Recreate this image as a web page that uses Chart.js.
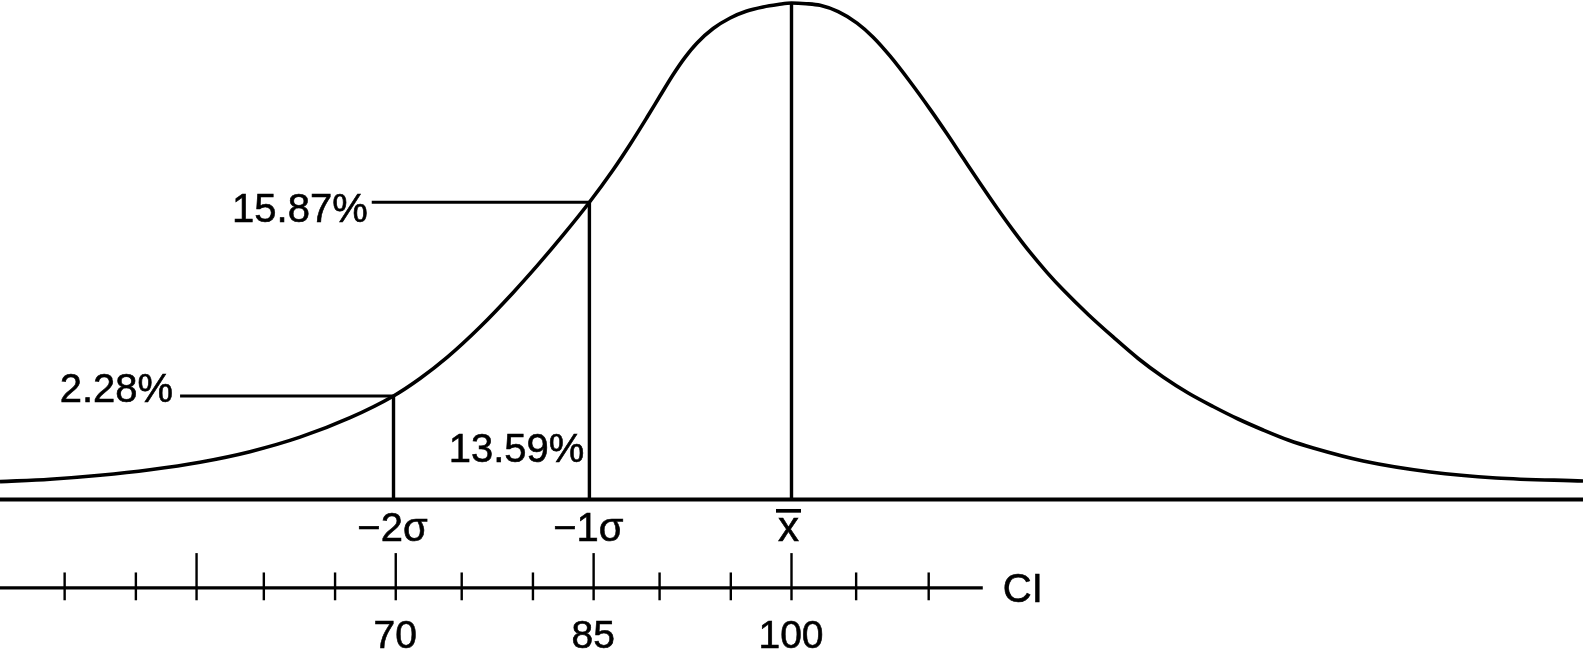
<!DOCTYPE html>
<html>
<head>
<meta charset="utf-8">
<title>CI normal curve</title>
<script src="https://cdn.jsdelivr.net/npm/chart.js@4.4.0/dist/chart.umd.min.js"></script>
<style>
  html, body { margin: 0; padding: 0; background: #fff; }
  #wrap { position: relative; width: 1583px; height: 660px; }
</style>
</head>
<body>
<div id="wrap"><canvas id="myChart"></canvas></div>
<script>
// curve (x in CI units, y in % of peak height)
var curveX = [40.00, 43.79, 47.58, 51.37, 55.16, 58.95, 62.74, 66.54, 69.83, 71.84, 73.89, 76.39, 78.89, 80.79,
              82.68, 84.68, 86.47, 87.76, 89.05, 90.04, 91.02, 91.93, 92.84, 94.06, 95.35, 96.56, 97.85, 98.98, 100.00,
              101.11, 102.17, 103.54, 104.97, 106.19, 107.48, 108.99, 110.51, 111.80, 113.01, 114.30, 115.59, 116.80,
              118.09, 119.38, 120.59, 122.49, 124.38, 126.28, 128.17, 130.07, 131.96, 133.86, 135.75, 137.65, 139.55,
              143.34, 148.42, 153.42, 160.00];
var curveY = [3.59, 4.09, 4.89, 6.00, 7.51, 9.63, 12.55, 16.48, 20.85, 24.37, 28.62, 34.74, 41.65, 47.29,
              53.23, 59.86, 66.36, 71.50, 76.98, 81.31, 85.56, 89.06, 91.96, 94.86, 96.98, 98.33, 99.19, 99.68, 100.00,
              99.86, 99.52, 98.25, 95.95, 93.11, 89.28, 84.13, 78.57, 73.60, 68.76, 63.63, 58.65, 54.20,
              49.75, 45.70, 42.22, 37.26, 32.73, 28.40, 24.67, 21.45, 18.73, 16.21, 14.00, 11.98, 10.37,
              7.75, 5.54, 4.33, 3.73];

// sigma markers
var sigmaLabels = ["\u22122\u03c3", "\u22121\u03c3", "x"];
var sigmaX = [69.83, 84.68, 100];
var sigmaTop = [20.85, 59.86, 100];

// cumulative percentages with leader lines, and the band between -2σ and -1σ
var tailLabels = ["2.28%", "15.87%"];
var leaderFromX = [53.65, 68.18];
var bandLabel = "13.59%";

// CI scale under the curve
var ciTicks = [44.9, 50.3, 54.9, 60.0, 65.4, 70.0, 75.0, 80.4, 85.0, 90.0, 95.4, 100.0, 104.9, 110.4];
var ciMajor = [54.9, 70.0, 85.0, 100.0];
var ciTickLabels = ["", "70", "85", "100"];
var ciEnd = 114.5;
var ciName = "CI";

var ciLevel = -17.8;   // where the CI axis sits (y units)
var FONT = '"Liberation Sans", Arial, Helvetica, sans-serif';

function seg(x1, y1, x2, y2, w) {
	return {
		data: [{x: x1, y: y1}, {x: x2, y: y2}],
		showLine: true, borderColor: "#000", borderWidth: w,
		pointRadius: 0, clip: false
	};
}

var datasets = [];
datasets.push({
	data: curveX.map(function(v, i) { return {x: v, y: curveY[i]}; }),
	showLine: true, borderColor: "#000", borderWidth: 3.6,
	pointRadius: 0, cubicInterpolationMode: "monotone", clip: false
});
datasets.push(seg(40, 0, 160, 0, 4));
sigmaX.forEach(function(v, i) { datasets.push(seg(v, 0, v, sigmaTop[i], 3.4)); });
leaderFromX.forEach(function(v, i) { datasets.push(seg(v, sigmaTop[i], sigmaX[i], sigmaTop[i], 3)); });
datasets.push(seg(40, ciLevel, ciEnd, ciLevel, 3.4));
ciTicks.forEach(function(v) {
	var top = ciMajor.indexOf(v) >= 0 ? -10.8 : -14.7;
	datasets.push(seg(v, -20.3, v, top, 2.4));
});

// text drawn a touch heavier, like the printed original
function put(ctx, t, x, y) {
	ctx.fillText(t, x, y);
	ctx.strokeText(t, x, y);
}

var textPlugin = {
	id: "texts",
	afterDatasetsDraw: function(chart) {
		var ctx = chart.ctx, xs = chart.scales.x, ys = chart.scales.y;
		var y0 = ys.getPixelForValue(0), yc = ys.getPixelForValue(ciLevel);
		ctx.save();
		ctx.fillStyle = "#000";
		ctx.strokeStyle = "#000";
		ctx.lineWidth = 0.6;
		ctx.textBaseline = "alphabetic";

		// tail percentages at the leader lines
		ctx.font = "40px " + FONT;
		ctx.textAlign = "right";
		var dx = [-7, -4], dy = [6, 19.5];
		tailLabels.forEach(function(t, i) {
			put(ctx, t, xs.getPixelForValue(leaderFromX[i]) + dx[i], ys.getPixelForValue(sigmaTop[i]) + dy[i]);
		});
		put(ctx, bandLabel, xs.getPixelForValue(sigmaX[1]) - 5, y0 - 37);

		// sigma labels under the baseline
		ctx.textAlign = "center";
		sigmaLabels.forEach(function(t, i) {
			var px = xs.getPixelForValue(sigmaX[i]);
			if (t === "x") {
				ctx.font = "42px " + FONT;
				put(ctx, t, px - 3, y0 + 42);
				ctx.fillRect(px - 15.5, y0 + 9.5, 25, 3.7);
				ctx.font = "40px " + FONT;
			} else {
				put(ctx, t, px - 1, y0 + 41.5);
			}
		});

		// CI tick labels and axis name
		ctx.font = "39px " + FONT;
		ciMajor.forEach(function(v, i) {
			if (ciTickLabels[i]) put(ctx, ciTickLabels[i], xs.getPixelForValue(v) - 0.5, yc + 60.5);
		});
		ctx.font = "40px " + FONT;
		ctx.textAlign = "left";
		put(ctx, ciName, xs.getPixelForValue(ciEnd) + 20, yc + 14);
		ctx.restore();
	}
};

var ctx = document.getElementById("myChart").getContext("2d");
var myChart = new Chart(ctx, {
	type: "scatter",
	data: {datasets: datasets},
	options: {
		responsive: true,
		maintainAspectRatio: false,
		animation: false,
		layout: {padding: 0},
		plugins: {legend: {display: false}, tooltip: {enabled: false}},
		scales: {
			x: {type: "linear", min: 40, max: 160, display: false},
			y: {type: "linear", min: -32.33, max: 100.6, display: false}
		}
	},
	plugins: [textPlugin]
});
</script>
</body>
</html>
